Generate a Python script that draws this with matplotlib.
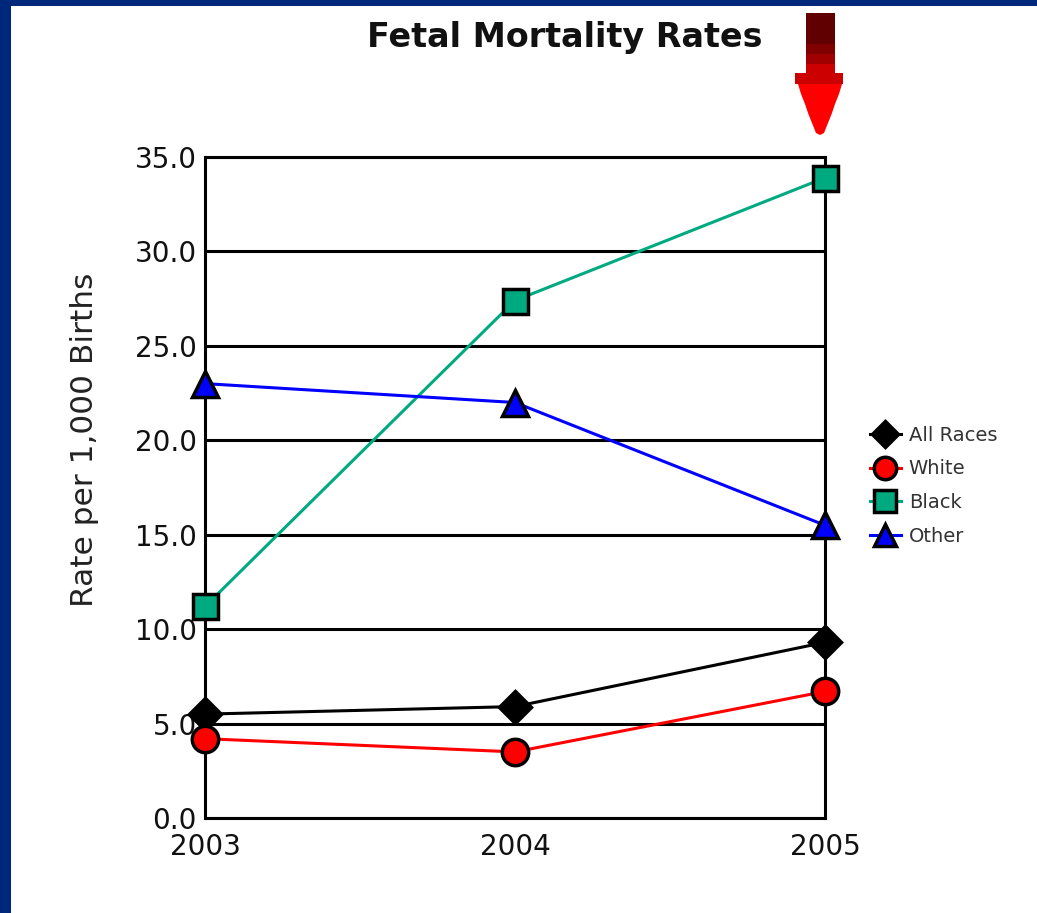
import matplotlib
matplotlib.use("Agg")
import matplotlib.pyplot as plt
from matplotlib.patches import Rectangle, Polygon

# ---- data ----
years = [2003, 2004, 2005]
all_races = [5.5, 5.9, 9.3]
white = [4.2, 3.5, 6.7]
black = [11.2, 27.4, 33.9]
other = [23.0, 22.0, 15.5]
series_names = ["All Races", "White", "Black", "Other"]
y_ticks = [0, 5, 10, 15, 20, 25, 30, 35]
y_tick_labels = ["0.0", "5.0", "10.0", "15.0", "20.0", "25.0", "30.0", "35.0"]
x_tick_labels = ["2003", "2004", "2005"]
title = "Fetal Mortality Rates"
ylabel = "Rate per 1,000 Births"

W, H = 1037, 913
fig = plt.figure(figsize=(W / 100, H / 100), dpi=100)
fig.patch.set_facecolor("white")

def fx(px):
    return px / W

def fy(py):
    return 1 - py / H

# navy frame (left and top)
navy = "#00287a"
fig.add_artist(Rectangle((0, 0), fx(11), 1, transform=fig.transFigure,
                         facecolor=navy, edgecolor="none", zorder=0))
fig.add_artist(Rectangle((0, fy(6)), 1, 1 - fy(6), transform=fig.transFigure,
                         facecolor=navy, edgecolor="none", zorder=0))

# red arrow above 2005
shaft_bands = [(13, 44, "#600000"), (44, 54, "#800000"), (54, 64, "#a00000"),
               (64, 76, "#cc0000")]
for top, bot, col in shaft_bands:
    fig.add_artist(Rectangle((fx(806), fy(bot)), fx(835) - fx(806), fy(top) - fy(bot),
                             transform=fig.transFigure, facecolor=col,
                             edgecolor="none", zorder=1))
fig.add_artist(Rectangle((fx(795), fy(84)), fx(843) - fx(795), fy(73) - fy(84),
                         transform=fig.transFigure, facecolor="#cc0000",
                         edgecolor="none", zorder=1))
head = [(fx(798), fy(84)), (fx(842), fy(84)), (fx(839), fy(94)), (fx(835), fy(104)),
        (fx(832), fy(113)), (fx(828), fy(123)), (fx(824), fy(133)), (fx(820), fy(135)),
        (fx(816), fy(133)), (fx(812), fy(123)), (fx(808), fy(113)), (fx(805), fy(104)),
        (fx(801), fy(94))]
fig.add_artist(Polygon(head, closed=True, transform=fig.transFigure,
                       facecolor="#ff0000", edgecolor="none", zorder=1))

# axes
ax = fig.add_axes([fx(205), fy(818), fx(825) - fx(205), fy(157) - fy(818)])
ax.set_facecolor("white")
ax.set_xlim(2003, 2005)
ax.set_ylim(0, 35)
ax.set_xticks(years)
ax.set_xticklabels(x_tick_labels)
ax.set_yticks(y_ticks)
ax.set_yticklabels(y_tick_labels)
ax.tick_params(axis="both", length=0, labelsize=20, colors="#111111")
ax.tick_params(axis="y", pad=6)
ax.tick_params(axis="x", pad=11)
for sp in ax.spines.values():
    sp.set_linewidth(2.2)
    sp.set_color("black")
ax.yaxis.grid(True, color="black", linewidth=2.2)
ax.set_axisbelow(True)

ax.set_ylabel(ylabel, fontsize=22.5, color="#222222", va="center")
ax.yaxis.set_label_coords((85 - 205) / 620, (818 - 440) / 661)

styles = [
    dict(color="black", marker="D", mfc="black", mec="black", ms=16),
    dict(color="#ff0000", marker="o", mfc="#ff0000", mec="black", ms=19),
    dict(color="#00aa80", marker="s", mfc="#00aa80", mec="black", ms=18),
    dict(color="#0000ff", marker="^", mfc="#0000ff", mec="black", ms=19),
]
data = [all_races, white, black, other]
handles = []
for name, vals, st in zip(series_names, data, styles):
    ln, = ax.plot(years, vals, color=st["color"], linewidth=2.2, marker=st["marker"],
                  markerfacecolor=st["mfc"], markeredgecolor=st["mec"],
                  markersize=st["ms"], markeredgewidth=2.5, clip_on=False, zorder=5,
                  label=name)
    handles.append(ln)

fig.legend(handles=handles, labels=series_names, loc="upper left",
           bbox_to_anchor=(fx(862), fy(418)), frameon=False, fontsize=14,
           handlelength=1.6, handletextpad=0.4, labelspacing=0.75,
           markerscale=0.85, borderaxespad=0, labelcolor="#333333")

fig.text(fx(565), fy(38), title, ha="center", va="center", fontsize=24,
         fontweight="bold", color="#111111")

fig.savefig("out.png", dpi=100)
